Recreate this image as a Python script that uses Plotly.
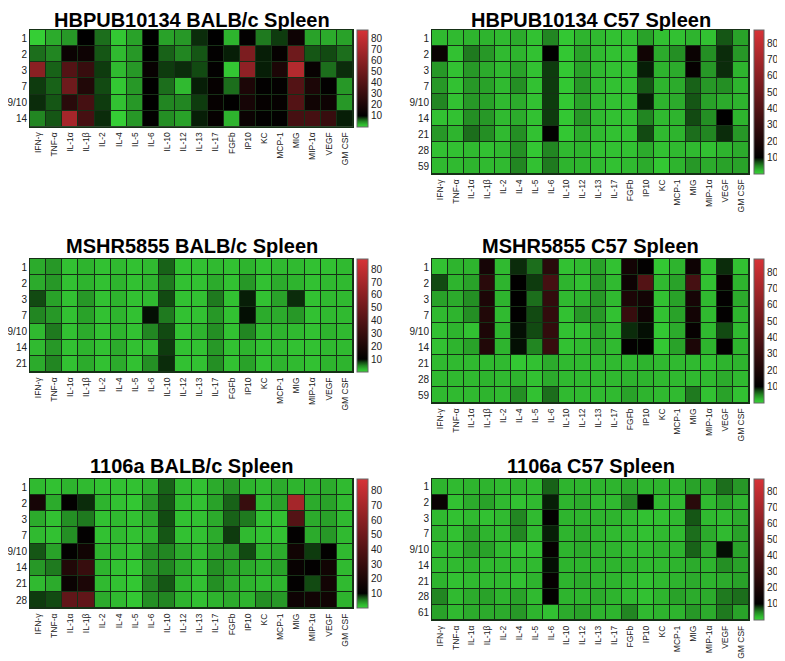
import plotly.graph_objects as go

cytokines = ["IFN-γ", "TNF-α", "IL-1α", "IL-1β", "IL-2", "IL-4", "IL-5", "IL-6", "IL-10", "IL-12",
             "IL-13", "IL-17", "FGFb", "IP10", "KC", "MCP-1", "MIG", "MIP-1α", "VEGF", "GM CSF"]

days_hb_balb = ["1", "2", "3", "7", "9/10", "14"]
hb_balb = [
    [0.5, 3, 4, 10, 6, 1, 3.5, 10, 3.5, 4, 8.5, 10, 2.5, 11, 5.5, 8, 15, 3.5, 3, 3.5],
    [6, 5, 14, 15, 7, 2, 4, 10.5, 6.5, 5, 7, 11, 9, 55, 9, 12, 50, 7, 7.5, 6],
    [60, 6.5, 40, 30, 8, 2, 4, 13, 8, 8.5, 7.5, 11, 1, 62, 9, 20, 75, 13, 6, 8.5],
    [8, 6.5, 50, 22, 7.5, 1, 4, 10.5, 6, 2, 9, 12, 6, 20, 11, 11.5, 40, 20, 11, 4],
    [8.5, 7, 25, 35, 8, 1.5, 4, 10.5, 5, 5, 8, 12, 10.5, 18, 12, 12, 40, 16, 15, 4],
    [5, 7, 70, 35, 8.5, 0.5, 4, 11, 4.5, 3.5, 9, 12, 2.5, 14, 11, 11, 35, 35, 30, 9],
]

days_hb_c57 = ["1", "2", "3", "7", "9/10", "14", "21", "28", "59"]
hb_c57 = [
    [2, 2, 2.5, 2.5, 2, 3, 1.5, 5, 1, 2.5, 2, 1.5, 1.5, 3.5, 1.5, 1.5, 2.5, 1.5, 7, 3.5],
    [14, 1.5, 5.5, 4, 2, 2.5, 1.5, 10.5, 1, 3.5, 2, 1.5, 1.5, 16, 3, 4.5, 14, 4.5, 8.5, 4],
    [4, 1.5, 4, 3, 2, 3.5, 1.5, 8, 1, 3.5, 2, 1.5, 1.5, 9, 2.5, 3, 12, 4, 8.5, 2.5],
    [4, 1.5, 4, 3.5, 2, 4.5, 1.5, 8, 1, 4, 2, 1.5, 1.5, 7, 2.5, 3, 6.5, 4, 4.5, 2.5],
    [5, 1.5, 4, 3.5, 2, 3, 1.5, 8, 1, 3.5, 2, 1.5, 1.5, 9, 2.5, 3, 7, 3.5, 3, 2.5],
    [1.5, 1.5, 4.5, 4, 2, 3, 1.5, 8, 1, 4, 2, 1.5, 1.5, 5, 2, 2.5, 7.5, 4.5, 10, 2.5],
    [4, 2.5, 6, 4.5, 2, 4.5, 1.5, 11, 1, 3, 2, 1.5, 1.5, 7.5, 2, 2.5, 6, 5, 8.5, 4],
    [1.5, 1.5, 2, 1.5, 2, 4.5, 1, 5, 2, 2.5, 1.5, 1.5, 1.5, 3, 1.5, 2, 2, 1.5, 2.5, 3],
    [2, 2, 2.5, 2, 2, 5, 1.5, 5.5, 2.5, 2.5, 2, 1.5, 2, 3, 1, 2.5, 4, 3, 3.5, 3.5],
]

days_ms_balb = ["1", "2", "3", "7", "9/10", "14", "21"]
ms_balb = [
    [3, 4, 1.5, 2.5, 1.5, 2, 1.5, 2, 6.5, 1.5, 1.5, 2, 1.5, 2.5, 1.5, 2, 2, 1.5, 1.5, 2],
    [3, 4, 1.5, 2.5, 1.5, 2.5, 1.5, 2.5, 5.5, 1.5, 1.5, 3, 1.5, 4, 1.5, 3, 2.5, 1.5, 2, 2],
    [7.5, 3.5, 1.5, 4, 1.5, 2.5, 1.5, 2, 7.5, 1.5, 1.5, 5.5, 1.5, 9, 1.5, 3.5, 8.5, 1.5, 2, 2],
    [5, 4, 1.5, 3.5, 1.5, 2.5, 1.5, 9.5, 5.5, 1.5, 1.5, 4, 1.5, 9.5, 3, 3, 4, 1.5, 2, 2],
    [2, 5.5, 1.5, 3, 1.5, 2.5, 1.5, 5, 7.5, 1.5, 2.5, 4.5, 1.5, 5, 2, 2.5, 2, 1.5, 2.5, 2],
    [2, 4, 1.5, 2.5, 1.5, 3, 1.5, 2, 8, 1.5, 1.5, 4, 1.5, 2.5, 1.5, 2, 1.5, 1.5, 2, 2],
    [3, 5, 1.5, 3, 1.5, 3, 1.5, 4.5, 8.5, 1.5, 1.5, 4.5, 1.5, 3.5, 1.5, 2.5, 2, 1.5, 2.5, 2.5],
]

days_ms_c57 = ["1", "2", "3", "7", "9/10", "14", "21", "28", "59"]
ms_c57 = [
    [1.5, 2.5, 2.5, 18, 2, 8.5, 6, 25, 1.5, 2, 3.5, 1.5, 17, 11, 1, 2.5, 15, 1.5, 8.5, 1.5],
    [7.5, 2.5, 3.5, 25, 2.5, 10.5, 8, 35, 2.5, 1.5, 4, 2, 15, 40, 2, 3.5, 35, 1.5, 13, 2.5],
    [3.5, 3, 4.5, 20, 2.5, 10.5, 6, 28, 2, 2.5, 4, 2, 20, 17, 1.5, 3.5, 18, 2, 11, 3],
    [2, 2.5, 4.5, 22, 2, 10.5, 7.5, 28, 1.5, 4, 4, 1.5, 30, 15, 1.5, 3.5, 17, 2, 11, 2.5],
    [1.5, 2.5, 1.5, 20, 2.5, 9.5, 7.5, 28, 1.5, 1.5, 3.5, 2, 8.5, 9.5, 1, 3, 12, 2, 7.5, 2],
    [1.5, 2.5, 3.5, 22, 2.5, 9.5, 5, 30, 1.5, 2, 3, 2, 11, 11, 1, 3.5, 20, 2.5, 11, 2.5],
    [2, 2, 2, 2, 2, 1, 1.5, 3, 2, 2, 2, 2, 2, 2.5, 2, 2, 2, 1.5, 2.5, 2.5],
    [2, 2, 2, 2.5, 2, 2.5, 1.5, 3, 2, 2, 2, 2, 2.5, 2.5, 2, 2, 2, 2, 3, 2],
    [2, 2, 2, 2.5, 2, 4.5, 1.5, 6, 2, 2, 2, 2, 3.5, 2.5, 2, 2, 5.5, 1.5, 3.5, 1.5],
]

days_1106_balb = ["1", "2", "3", "7", "9/10", "14", "21", "28"]
a1106_balb = [
    [2, 1.5, 2.5, 2, 1.5, 1.5, 1.5, 2.5, 6.5, 2, 1.5, 3, 4, 2.5, 2, 3, 2.5, 2.5, 3, 2],
    [18, 3, 11, 8.5, 2.5, 1.5, 1, 4, 7, 2, 1.5, 3.5, 6.5, 30, 2, 3.5, 70, 3, 3.5, 2],
    [3, 1.5, 4.5, 5.5, 1.5, 2, 1.5, 3, 7.5, 1.5, 1.5, 3, 6.5, 5.5, 1.5, 1.5, 40, 3, 3.5, 2],
    [2, 1.5, 4.5, 11, 1.5, 2, 1.5, 2.5, 7, 1.5, 1.5, 3, 8, 2, 1.5, 1.5, 11, 3, 4, 2],
    [7, 3.5, 11, 16, 2.5, 2, 1.5, 4.5, 5, 3, 2, 3.5, 4, 7.5, 2.5, 3, 16, 8, 11, 2],
    [4, 5.5, 22, 30, 2.5, 1.5, 1, 4, 5, 3, 1.5, 4.5, 3.5, 3, 2.5, 3.5, 13, 11, 16, 2],
    [2, 3, 14, 20, 2, 1.5, 1, 5, 7, 2.5, 1.5, 4.5, 3, 2.5, 2, 2.5, 11, 7.5, 17, 2],
    [8, 7.5, 45, 45, 3, 2, 1, 4.5, 5, 2.5, 1.5, 2.5, 3, 2.5, 4.5, 4, 15, 16, 16, 2.5],
]

days_1106_c57 = ["1", "2", "3", "7", "9/10", "14", "21", "28", "61"]
a1106_c57 = [
    [2.5, 2, 2.5, 2.5, 2, 2.5, 2, 6.5, 2.5, 2.5, 2.5, 2.5, 3, 2.5, 2.5, 2.5, 3.5, 3, 6, 4],
    [14, 1.5, 3, 3.5, 2, 1.5, 2, 9, 2.5, 3, 2, 2, 5, 11, 2, 2, 25, 2, 3.5, 2.5],
    [2, 1.5, 2, 1.5, 2, 5, 2, 11, 2.5, 2.5, 2.5, 2.5, 2, 1.5, 1.5, 2, 7, 2, 2, 3],
    [2.5, 1.5, 3.5, 2.5, 2, 5, 2, 9, 2.5, 3, 2.5, 2, 2, 1.5, 2, 2, 6, 3, 2, 3.5],
    [2, 2, 3.5, 3.5, 2, 1.5, 1.5, 12, 2.5, 3, 2.5, 2.5, 2, 2, 2.5, 2.5, 6.5, 3, 9.5, 3.5],
    [2, 2, 2.5, 2, 2, 2, 2, 9.5, 2.5, 2.5, 2.5, 2.5, 2.5, 2, 2, 2.5, 3, 2.5, 4.5, 3.5],
    [2.5, 1.5, 2, 2, 2, 1.5, 2.5, 12, 2.5, 3, 2.5, 2.5, 2, 1.5, 2, 2.5, 3, 2.5, 3, 3.5],
    [5, 2, 3, 3.5, 2.5, 3.5, 2, 11, 2.5, 2.5, 3, 2.5, 2, 1.5, 2.5, 3.5, 3, 3, 5.5, 6],
    [3.5, 2, 3, 3, 3, 4, 2.5, 1.5, 3, 3.5, 2.5, 2.5, 5, 2, 2.5, 2.5, 4, 3, 5.5, 3.5],
]

titles = ["HBPUB10134 BALB/c Spleen", "HBPUB10134 C57 Spleen",
          "MSHR5855 BALB/c Spleen", "MSHR5855 C57 Spleen",
          "1106a BALB/c Spleen", "1106a C57 Spleen"]
colorbar_ticks = [10, 20, 30, 40, 50, 60, 70, 80]

W, H = 785, 661
ZMAX = 88
colorscale = [
    [0, "rgb(55,212,55)"],
    [2.5 / ZMAX, "rgb(46,180,46)"],
    [5 / ZMAX, "rgb(34,134,34)"],
    [7.5 / ZMAX, "rgb(18,74,18)"],
    [10 / ZMAX, "rgb(0,0,0)"],
    [1, "rgb(215,50,55)"],
]
FONT = "Liberation Sans, Arial, sans-serif"

# (z, days, left px, right px, top px, row px, title y px, colorbar x px, colorbar thickness)
panels = [
    (hb_balb, days_hb_balb, 22, 345, 22, 16.15, 12, 349, 11),
    (hb_c57, days_hb_c57, 424, 741, 22, 16.0, 12, 746, 10),
    (ms_balb, days_ms_balb, 22, 345, 251, 16.15, 238, 349, 11),
    (ms_c57, days_ms_c57, 424, 741, 251, 16.0, 238, 746, 10),
    (a1106_balb, days_1106_balb, 22, 345, 471, 16.15, 458, 349, 11),
    (a1106_c57, days_1106_c57, 424, 741, 471, 15.7, 458, 746, 10),
]

fig = go.Figure()
layout = dict(width=W, height=H, margin=dict(l=0, r=0, t=0, b=0),
              paper_bgcolor="white", plot_bgcolor="#163016",
              font=dict(family=FONT, color="#222"), showlegend=False,
              annotations=[])

for i, (z, days, x0, x1, top, row, ty, cbx, cbt) in enumerate(panels):
    n = i + 1
    bottom = top + row * len(days)
    xa = "x" if n == 1 else f"x{n}"
    ya = "y" if n == 1 else f"y{n}"
    fig.add_trace(go.Heatmap(
        z=z, x=cytokines, y=days, xaxis=xa, yaxis=ya,
        zmin=0, zmax=ZMAX, colorscale=colorscale, xgap=1, ygap=1,
        hoverinfo="skip",
        colorbar=dict(x=cbx / W, xanchor="left", xpad=0, ypad=0,
                      y=1 - top / H, yanchor="top", lenmode="pixels",
                      len=bottom - top, thickness=cbt,
                      tickvals=colorbar_ticks, ticks="",
                      tickfont=dict(size=10, family=FONT, color="#222"),
                      outlinewidth=1, outlinecolor="#666"),
    ))
    key = "" if n == 1 else str(n)
    layout[f"xaxis{key}"] = dict(domain=[x0 / W, x1 / W], anchor=ya,
                                 tickangle=-90, tickfont=dict(size=8.5, family=FONT, color="#222"),
                                 ticklabelstandoff=1,
                                 showline=True, mirror=True, linecolor="#163016", linewidth=1,
                                 showgrid=False, zeroline=False, ticks="", fixedrange=True)
    layout[f"yaxis{key}"] = dict(domain=[1 - bottom / H, 1 - top / H], anchor=xa,
                                 autorange="reversed", type="category",
                                 tickfont=dict(size=10, family=FONT, color="#222"),
                                 showline=True, mirror=True, linecolor="#163016", linewidth=1,
                                 showgrid=False, zeroline=False, ticks="", fixedrange=True)
    layout["annotations"].append(dict(
        text=f"<b>{titles[i]}</b>", x=(x0 + x1) / 2 / W, y=1 - ty / H,
        xref="paper", yref="paper", xanchor="center", yanchor="middle",
        showarrow=False, font=dict(size=20, family=FONT, color="black")))

fig.update_layout(**layout)
fig.write_html("out.html")
